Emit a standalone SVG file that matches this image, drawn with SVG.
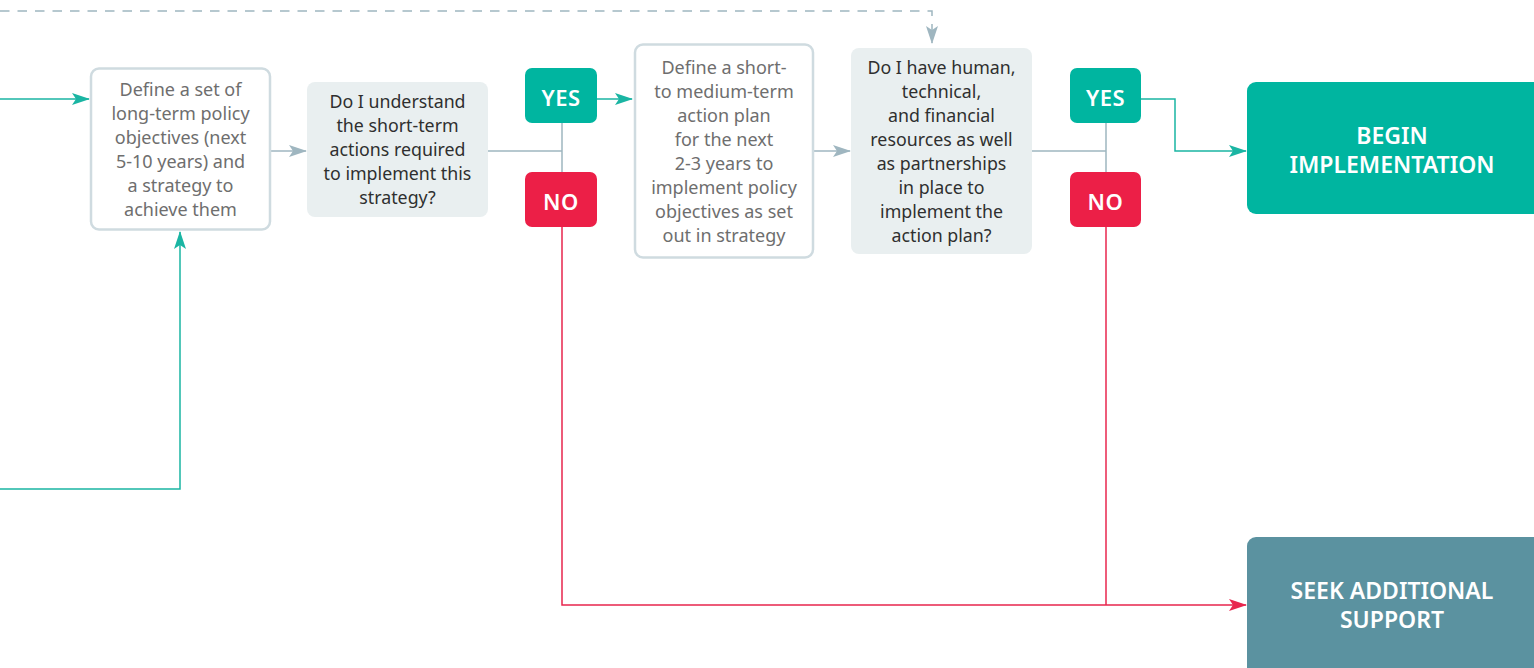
<svg xmlns="http://www.w3.org/2000/svg" width="1534" height="668" viewBox="0 0 1534 668">
<style>
.lt{font-family:"Noto Sans","Open Sans",sans-serif;font-size:18px;fill:#6e6e6e;text-anchor:middle}
.dk{font-family:"Noto Sans","Open Sans",sans-serif;font-size:17.8px;fill:#2f2f2f;text-anchor:middle}
.btn{font-family:"Noto Sans","Open Sans",sans-serif;font-size:22px;font-weight:600;fill:#fff;text-anchor:middle;letter-spacing:0.5px}
.big{font-family:"Noto Sans","Open Sans",sans-serif;font-size:23px;font-weight:600;fill:#fff;text-anchor:middle}
.wbox{fill:#fff;stroke:#cfdbe0;stroke-width:2.5}
.gbox{fill:#e9eff0}
.gl{fill:none;stroke:#9fb6c0;stroke-width:1.5}
.tl{fill:none;stroke:#1ab5a3;stroke-width:1.5}
.rl{fill:none;stroke:#e8264e;stroke-width:1.5}
</style>
<defs>
<marker id="ag" markerWidth="18" markerHeight="12" refX="17" refY="6" orient="auto" markerUnits="userSpaceOnUse"><path d="M0,0 L18,6 L0,12 L4,6 Z" fill="#9fb6c0"/></marker>
<marker id="at" markerWidth="18" markerHeight="12" refX="17" refY="6" orient="auto" markerUnits="userSpaceOnUse"><path d="M0,0 L18,6 L0,12 L4,6 Z" fill="#1ab5a3"/></marker>
<marker id="ar" markerWidth="18" markerHeight="12" refX="17" refY="6" orient="auto" markerUnits="userSpaceOnUse"><path d="M0,0 L18,6 L0,12 L4,6 Z" fill="#e8264e"/></marker>
</defs>
<g id="connectors">
<path class="gl" d="M0,11 H932 V43" stroke-width="2" stroke-dasharray="9.5 8" marker-end="url(#ag)"/>
<path class="tl" d="M0,99 H89" marker-end="url(#at)"/>
<path class="tl" d="M0,489 H180 V232" marker-end="url(#at)"/>
<path class="gl" d="M271,151 H306" marker-end="url(#ag)"/>
<path class="gl" d="M488,151 H562 M562,123 V172"/>
<path class="tl" d="M597,99 H632" marker-end="url(#at)"/>
<path class="gl" d="M814,151 H850" marker-end="url(#ag)"/>
<path class="gl" d="M1032,151 H1106 M1106,123 V172"/>
<path class="tl" d="M1141,99 H1175 V151 H1246" marker-end="url(#at)"/>
<path class="rl" d="M562,227 V605 H1246" marker-end="url(#ar)"/>
<path class="rl" d="M1106,227 V605"/>
</g>
<g id="n-longterm">
<rect class="wbox" x="91" y="68.5" width="179" height="161" rx="8"/>
<text class="lt"><tspan x="180.5" y="96">Define a set of</tspan><tspan x="180.5" y="120">long-term policy</tspan><tspan x="180.5" y="144">objectives (next</tspan><tspan x="180.5" y="168">5-10 years) and</tspan><tspan x="180.5" y="192">a strategy to</tspan><tspan x="180.5" y="216">achieve them</tspan></text>
</g>
<g id="n-q1">
<rect class="gbox" x="307" y="82" width="181" height="135" rx="8"/>
<text class="dk"><tspan x="397.5" y="108">Do I understand</tspan><tspan x="397.5" y="132">the short-term</tspan><tspan x="397.5" y="156">actions required</tspan><tspan x="397.5" y="180">to implement this</tspan><tspan x="397.5" y="204">strategy?</tspan></text>
</g>
<g id="n-yes1">
<rect x="525" y="68" width="72" height="55" rx="7" fill="#00b5a0"/>
<text class="btn" x="561" y="106">YES</text>
</g>
<g id="n-no1">
<rect x="525" y="172" width="72" height="55" rx="7" fill="#ec1f47"/>
<text class="btn" x="561" y="210">NO</text>
</g>
<g id="n-actionplan">
<rect class="wbox" x="635" y="44.5" width="178" height="213" rx="8"/>
<text class="lt"><tspan x="724" y="74">Define a short-</tspan><tspan x="724" y="98">to medium-term</tspan><tspan x="724" y="122">action plan</tspan><tspan x="724" y="146">for the next</tspan><tspan x="724" y="170">2-3 years to</tspan><tspan x="724" y="194">implement policy</tspan><tspan x="724" y="218">objectives as set</tspan><tspan x="724" y="242">out in strategy</tspan></text>
</g>
<g id="n-q2">
<rect class="gbox" x="851" y="48" width="181" height="206" rx="8"/>
<text class="dk"><tspan x="941.5" y="74">Do I have human,</tspan><tspan x="941.5" y="98">technical,</tspan><tspan x="941.5" y="122">and financial</tspan><tspan x="941.5" y="146">resources as well</tspan><tspan x="941.5" y="170">as partnerships</tspan><tspan x="941.5" y="194">in place to</tspan><tspan x="941.5" y="218">implement the</tspan><tspan x="941.5" y="242">action plan?</tspan></text>
</g>
<g id="n-yes2">
<rect x="1070" y="68" width="71" height="55" rx="7" fill="#00b5a0"/>
<text class="btn" x="1105.5" y="106">YES</text>
</g>
<g id="n-no2">
<rect x="1070" y="172" width="71" height="55" rx="7" fill="#ec1f47"/>
<text class="btn" x="1105.5" y="210">NO</text>
</g>
<g id="n-begin">
<rect x="1247" y="82" width="300" height="132" rx="9" fill="#00b5a0"/>
<text class="big"><tspan x="1392" y="144">BEGIN</tspan><tspan x="1392" y="173">IMPLEMENTATION</tspan></text>
</g>
<g id="n-seek">
<rect x="1247" y="537" width="300" height="145" rx="9" fill="#5b92a0"/>
<text class="big"><tspan x="1392" y="599">SEEK ADDITIONAL</tspan><tspan x="1392" y="628">SUPPORT</tspan></text>
</g>
</svg>
